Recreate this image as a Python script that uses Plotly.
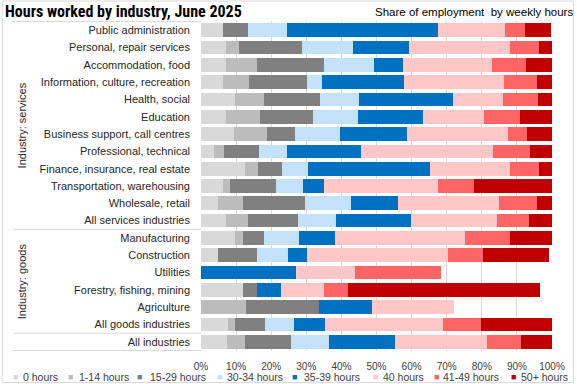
import plotly.graph_objects as go

industries = [
    "Public administration", "Personal, repair services", "Accommodation, food",
    "Information, culture, recreation", "Health, social", "Education",
    "Business support, call centres", "Professional, technical",
    "Finance, insurance, real estate", "Transportation, warehousing",
    "Wholesale, retail", "All services industries",
    "Manufacturing", "Construction", "Utilities", "Forestry, fishing, mining",
    "Agriculture", "All goods industries", "All industries",
]

series_names = ["0 hours", "1-14 hours", "15-29 hours", "30-34 hours",
                "35-39 hours", "40 hours", "41-49 hours", "50+ hours"]

h0 =    [6.3, 7.2, 7.2, 6.3, 9.7, 7.2, 9.4, 3.8, 12.6, 6.3, 4.9, 7.2, 9.7, 4.9, None, 12.0, None, 7.7, 7.5]
h1_14 = [None, 3.7, 8.8, 7.4, 8.2, 9.6, 9.3, 2.8, 3.7, 2.0, 7.1, 6.2, 2.3, None, None, None, 12.8, 2.0, 5.1]
h15_29 = [7.1, 17.8, 19.0, 16.4, 16.1, 15.0, 8.2, 9.9, 6.8, 13.0, 17.6, 14.2, 5.9, 11.0, None, 4.0, 20.7, 8.5, 13.0]
h30_34 = [11.0, 14.7, 14.4, 4.5, 11.0, 13.0, 12.7, 7.9, 7.4, 7.9, 13.0, 11.0, 9.9, 8.8, None, None, None, 8.2, 10.8]
h35_39 = [43.1, 15.9, 8.2, 23.2, 26.9, 18.4, 19.0, 21.2, 34.6, 5.9, 13.6, 21.2, 10.5, 5.4, 27.0, 6.8, 15.3, 8.8, 19.0]
h40 =   [19.2, 28.6, 25.2, 28.6, 14.2, 17.3, 28.9, 37.7, 22.9, 32.3, 28.6, 24.4, 36.8, 40.2, 17.0, 12.2, 23.2, 33.7, 26.1]
h41_49 = [5.5, 8.5, 9.9, 9.3, 9.9, 10.5, 5.4, 10.5, 8.2, 10.5, 11.0, 9.3, 13.0, 9.9, 24.3, 6.8, None, 11.0, 9.6]
h50p =  [7.6, 3.9, 7.6, 4.4, 4.0, 9.3, 7.3, 6.4, 4.2, 22.3, 4.2, 6.7, 12.1, 19.0, None, 54.7, None, 20.3, 9.3]

colors = ["#d9d9d9", "#bcbcbc", "#808080", "#c3e2fa",
          "#0070c0", "#ffc7c7", "#ff6565", "#c00000"]

x_ticks = [0, 10, 20, 30, 40, 50, 60, 70, 80, 90, 100]

groups = [("Industry: services", 0, 11), ("Industry: goods", 12, 17)]

series_values = [h0, h1_14, h15_29, h30_34, h35_39, h40, h41_49, h50p]

FONT = "Liberation Sans, Arial, sans-serif"
W, H = 577, 384
ML, MR, MT, MB = 201, 23, 21, 33
PW, PH = W - ML - MR, H - MT - MB


def px_x(p):
    return (p - ML) / PW


def px_y(p):
    return (H - MB - p) / PH


fig = go.Figure()
for name, vals, col in zip(series_names, series_values, colors):
    fig.add_trace(go.Bar(
        y=industries, x=vals, name=name, orientation="h",
        marker=dict(color=col, line=dict(width=0)),
        showlegend=False,
    ))

shapes = []
n = len(industries)
for b in [-0.5, 11.5, 17.5, n - 0.5]:
    shapes.append(dict(type="line", xref="paper", yref="y",
                       x0=px_x(12), x1=0, y0=b, y1=b,
                       line=dict(color="#d9d9d9", width=1)))
shapes.append(dict(type="rect", xref="paper", yref="paper",
                   x0=px_x(1), x1=px_x(575.5), y0=px_y(1), y1=px_y(382.5),
                   line=dict(color="#d9d9d9", width=1), layer="below"))

annotations = []
annotations.append(dict(text="<b>Hours worked by industry, June 2025</b>",
                        xref="paper", yref="paper", x=px_x(2), y=px_y(12),
                        xanchor="left", yanchor="middle", showarrow=False,
                        font=dict(family="Roboto Condensed, Liberation Sans Narrow, Liberation Sans, sans-serif",
                                  size=16, color="#000000")))
annotations.append(dict(text="Share of employment&nbsp; by weekly hours",
                        xref="paper", yref="paper", x=px_x(577), y=px_y(12),
                        xanchor="right", yanchor="middle", showarrow=False,
                        font=dict(family=FONT, size=11.5, color="#000000")))
for label, i0, i1 in groups:
    annotations.append(dict(text=label, xref="paper", yref="y",
                            x=px_x(21), y=(i0 + i1) / 2, textangle=-90,
                            xanchor="center", yanchor="middle", showarrow=False,
                            font=dict(family=FONT, size=11, color="#262626")))

LEG_Y = 377.3
legend_marker_x = [12.3, 67.7, 136.7, 217, 293, 374.3, 435.3, 512.7]
legend_text_x = [20.7, 77.3, 149, 225.7, 303.7, 382.7, 443.7, 522]
for name, col, mx, tx in zip(series_names, colors, legend_marker_x, legend_text_x):
    annotations.append(dict(text="■", xref="paper", yref="paper",
                            x=px_x(mx - 1), y=px_y(LEG_Y), xanchor="left", yanchor="middle",
                            showarrow=False, borderpad=0,
                            font=dict(family=FONT, size=9, color=col)))
    annotations.append(dict(text=name, xref="paper", yref="paper",
                            x=px_x(tx), y=px_y(LEG_Y), xanchor="left", yanchor="middle",
                            showarrow=False, borderpad=0,
                            font=dict(family=FONT, size=10.5, color="#404040")))

fig.update_layout(
    width=W, height=H,
    margin=dict(l=ML, r=MR, t=MT, b=MB, pad=0),
    barmode="stack", bargap=0.21,
    plot_bgcolor="white", paper_bgcolor="white",
    font=dict(family=FONT, size=11, color="#262626"),
    shapes=shapes, annotations=annotations,
    showlegend=False,
)
fig.update_xaxes(range=[0, 100], tickvals=x_ticks,
                 ticktext=[f"{v}%" for v in x_ticks],
                 showgrid=True, gridcolor="#d9d9d9", gridwidth=1,
                 zeroline=False, showline=False, ticks="",
                 tickfont=dict(size=10, color="#404040"),
                 ticklabelstandoff=8, fixedrange=True)
fig.update_yaxes(categoryorder="array", categoryarray=industries,
                 autorange="reversed", showgrid=False, zeroline=False,
                 showline=False, ticks="", ticklabelstandoff=10,
                 tickfont=dict(size=11, color="#262626"), fixedrange=True)

fig.write_html("out.html", config={"displayModeBar": False},
               post_script="document.body.style.margin='0';document.body.style.overflow='hidden';")
